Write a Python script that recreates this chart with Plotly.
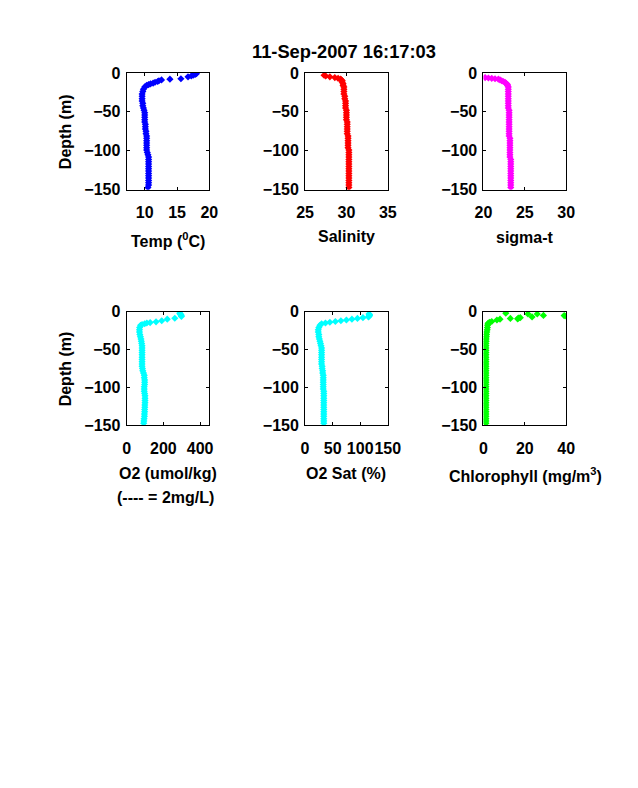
import plotly.graph_objects as go

TITLE = "11-Sep-2007 16:17:03"
DEEP_DEPTH = [-18, -21, -24, -27, -30, -33, -36, -39, -42, -45, -48, -51, -54, -57, -60, -63, -66, -69, -72, -75, -78, -81,
              -84, -87, -90, -93, -96, -99, -102, -105, -108, -111, -114, -117, -120, -123, -126, -129, -132, -135, -138,
              -141, -144, -147]

temp_surface_depth = [-1, -2, -3, -4, -5, -7.5, -8, -9, -10, -11, -12, -13, -14, -15, -16]
temp_surface = [18.0, 17.8, 17.5, 17.2, 16.7, 15.6, 13.9, 12.6, 12.2, 12.0, 11.6, 11.3, 10.9, 10.6, 10.3]
temp_deep = [10.0, 9.8, 9.7, 9.6, 9.6, 9.6, 9.6, 9.7, 9.7, 9.8, 9.9, 10.0, 10.0, 10.0, 10.0, 10.0, 10.1, 10.1, 10.1, 10.2, 10.2, 10.3,
             10.3, 10.3, 10.3, 10.3, 10.3, 10.3, 10.4, 10.5, 10.6, 10.6, 10.6, 10.6, 10.6, 10.6, 10.6, 10.6, 10.6, 10.6, 10.6,
             10.6, 10.6, 10.5]

sal_surface_depth = [-3, -4, -5, -6, -7, -8, -9, -10, -12, -14, -16]
sal_surface = [27.3, 27.5, 28.0, 28.6, 29.0, 29.3, 29.4, 29.5, 29.5, 29.6, 29.6]
sal_deep = [29.7, 29.7, 29.7, 29.7, 29.8, 29.8, 29.9, 29.9, 29.9, 29.9, 30.0, 30.0, 30.0, 30.0, 30.0, 30.1, 30.1, 30.1, 30.1, 30.1, 30.1, 30.2,
            30.2, 30.2, 30.2, 30.2, 30.2, 30.3, 30.3, 30.3, 30.3, 30.3, 30.3, 30.3, 30.3, 30.3, 30.3, 30.3, 30.3, 30.3, 30.3,
            30.3, 30.3, 30.3]

sig_surface_depth = [-6, -6.5, -7, -7.5, -8, -9, -10, -11, -12, -13, -14, -15, -16]
sig_surface = [20.2, 20.6, 21.0, 21.4, 21.8, 22.0, 22.2, 22.4, 22.6, 22.7, 22.8, 22.9, 22.9]
sig_deep = [23.0, 23.0, 23.0, 23.0, 23.0, 23.0, 23.0, 23.0, 23.0, 23.0, 23.1, 23.1, 23.1, 23.1, 23.1, 23.1, 23.1, 23.1, 23.1, 23.1, 23.1, 23.1,
            23.2, 23.2, 23.2, 23.2, 23.2, 23.2, 23.2, 23.2, 23.2, 23.3, 23.3, 23.3, 23.3, 23.3, 23.3, 23.3, 23.3, 23.3, 23.3,
            23.3, 23.3, 23.3]

o2_surface_depth = [-2, -3, -4, -5, -6.5, -8.7, -10, -12, -13.5, -14.5, -15, -16, -17]
o2_surface = [289, 292, 295, 297, 298, 262, 221, 191, 160, 128, 110, 98, 84]
o2_deep = [76, 71, 70, 70, 72, 75, 78, 80, 82, 84, 84, 84, 84, 84, 84, 84, 84, 84, 84, 86, 88, 92,
           96, 96, 98, 98, 98, 96, 96, 96, 98, 100, 100, 100, 100, 99, 99, 98, 98, 97, 97,
           95, 94, 93]

sat_surface_depth = [-3, -4, -5, -6, -7, -8, -9, -10, -11, -12, -13, -14, -15, -16]
sat_surface = [116, 117, 117, 116, 115, 105, 95, 85, 75, 65, 55, 45, 37, 30]
sat_deep = [27, 25, 24, 24, 25, 25, 26, 27, 28, 29, 30, 30, 30, 30, 30, 30, 30, 30, 31, 31, 32, 32,
            33, 33, 33, 33, 33, 33, 33, 34, 34, 34, 34, 34, 34, 34, 34, 34, 34, 34, 34,
            34, 34, 34]

chl_surface_depth = [-2, -3, -3.2, -5, -5.2, -6, -7, -8, -8.5, -9, -9.5, -10, -11, -13, -14, -15, -16]
chl_surface = [10.8, 21.5, 26.0, 29.0, 39.0, 40.0, 23.5, 17.8, 17.0, 13.0, 16.5, 8.0, 6.5, 4.0, 3.0, 2.4, 2.2]
chl_deep = [2.0, 1.9, 1.8, 1.6, 1.5, 1.4, 1.3, 1.3, 1.2, 1.2, 1.2, 1.2, 1.2, 1.2, 1.2, 1.2, 1.2, 1.2, 1.2, 1.2, 1.2, 1.2,
            1.2, 1.2, 1.2, 1.2, 1.2, 1.2, 1.2, 1.2, 1.2, 1.2, 1.2, 1.2, 1.2, 1.2, 1.2, 1.2, 1.2, 1.2, 1.2,
            1.2, 1.2, 1.2]

Y_TICKS = [0, -50, -100, -150]
W, H = 638, 788
FONT = "Liberation Sans"


def fx(px):
    return (px - 9) / 618


def fy(px):
    return 1 - (px - 8) / (H - 16)


panels = [
    dict(d=temp_surface_depth, v=temp_surface, dv=temp_deep, c="#0000ff", xr=[7.2, 20], xt=[10, 15, 20],
         x0=127, y0=73, y1=190, label="Temp (<sup>0</sup>C)", ly=240, ylab=True),
    dict(d=sal_surface_depth, v=sal_surface, dv=sal_deep, c="#ff0000", xr=[25, 35], xt=[25, 30, 35],
         x0=306, y0=73, y1=190, label="Salinity", ly=237, ylab=False),
    dict(d=sig_surface_depth, v=sig_surface, dv=sig_deep, c="#ff00ff", xr=[20, 30], xt=[20, 25, 30],
         x0=485, y0=73, y1=190, label="sigma-t", ly=238, ylab=False),
    dict(d=o2_surface_depth, v=o2_surface, dv=o2_deep, c="#00ffff", xr=[0, 450], xt=[0, 200, 400],
         x0=127, y0=312, y1=426, label="O2 (umol/kg)", ly=474, ylab=True),
    dict(d=sat_surface_depth, v=sat_surface, dv=sat_deep, c="#00ffff", xr=[0, 150], xt=[0, 50, 100, 150],
         x0=306, y0=312, y1=426, label="O2 Sat (%)", ly=474, ylab=False),
    dict(d=chl_surface_depth, v=chl_surface, dv=chl_deep, c="#00ff00", xr=[0, 40], xt=[0, 20, 40],
         x0=485, y0=312, y1=426, label="Chlorophyll (mg/m<sup>3</sup>)", ly=476, ylab=False),
]
PW = 83

fig = go.Figure()
annotations = []
layout = {}
for i, p in enumerate(panels, start=1):
    sfx = "" if i == 1 else str(i)
    fig.add_trace(go.Scatter(
        x=p["v"] + p["dv"], y=p["d"] + DEEP_DEPTH, mode="markers",
        marker=dict(symbol="diamond", size=5.5, color=p["c"], line=dict(width=0)),
        showlegend=False, xaxis="x" + sfx, yaxis="y" + sfx))
    common = dict(showline=True, mirror="ticks", linecolor="black", linewidth=1, showgrid=False, zeroline=False,
                  ticks="inside", ticklen=3, tickcolor="black", tickangle=0,
                  tickfont=dict(family=FONT, size=16, color="black", weight="bold"))
    layout["xaxis" + sfx] = dict(common, domain=[fx(p["x0"]), fx(p["x0"] + PW)], range=p["xr"],
                                 tickvals=p["xt"], anchor="y" + sfx, ticklabelstandoff=8)
    layout["yaxis" + sfx] = dict(common, domain=[fy(p["y1"]), fy(p["y0"])], range=[-150, 0],
                                 tickvals=Y_TICKS, anchor="x" + sfx, ticklabelstandoff=2)
    annotations.append(dict(text="<b>" + p["label"] + "</b>", x=fx(p["x0"] + PW / 2 + (1 if i == 6 else 0)), y=fy(p["ly"]),
                            xref="paper", yref="paper", showarrow=False, xanchor="center", yanchor="middle",
                            font=dict(family=FONT, size=16, color="black")))
    if p["ylab"]:
        annotations.append(dict(text="<b>Depth (m)</b>", x=fx(66), y=fy((p["y0"] + p["y1"]) / 2),
                                xref="paper", yref="paper", showarrow=False, textangle=-90,
                                xanchor="center", yanchor="middle",
                                font=dict(family=FONT, size=16, color="black")))
annotations.append(dict(text="<b>(---- = 2mg/L)</b>", x=fx(127 + PW / 2 - 2), y=fy(498), xref="paper", yref="paper",
                        showarrow=False, xanchor="center", yanchor="middle",
                        font=dict(family=FONT, size=16, color="black")))
annotations.append(dict(text="<b>" + TITLE + "</b>", x=fx(345), y=fy(52), xref="paper", yref="paper",
                        showarrow=False, xanchor="center", yanchor="middle",
                        font=dict(family=FONT, size=18.3, color="black")))

fig.update_layout(width=W, height=H, autosize=False, margin=dict(l=0, r=0, t=0, b=0, pad=0),
                  paper_bgcolor="white", plot_bgcolor="white", annotations=annotations, **layout)
fig.write_html("out.html", config=dict(displayModeBar=False),
               post_script="document.body.style.margin='0';")
